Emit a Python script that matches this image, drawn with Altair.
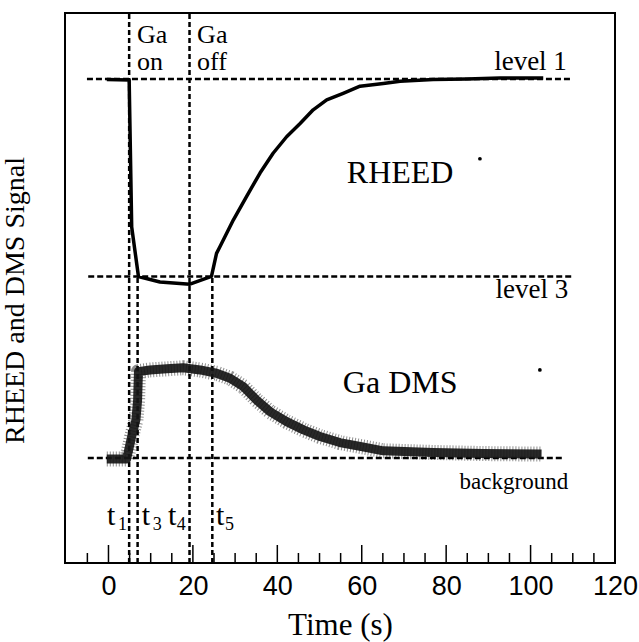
import altair as alt
import pandas as pd

# ---- data ----
rheed_t = [-0.4, 4.9, 5.5, 7.1, 12.2, 19.3, 24.4, 25.6, 26.4, 29.6, 32.7, 35.9, 39.0,
           42.2, 45.4, 48.5, 51.7, 55.6, 59.6, 65.1, 69.1, 76.9, 84.9, 92.8, 103.0]
rheed_s = [87.9, 87.8, 61.1, 52.1, 51.1, 50.7, 52.1, 56.3, 57.5, 62.4, 66.6, 70.9, 74.5,
           77.5, 79.9, 82.4, 84.2, 85.4, 86.7, 87.2, 87.6, 87.9, 88.0, 88.2, 88.2]

dms_t = [-0.4, 4.3, 5.5, 6.5, 6.9, 7.1, 9.8, 13.8, 17.7, 21.7, 25.6, 28.8, 31.9, 35.1,
         38.3, 42.2, 46.2, 50.1, 54.8, 59.6, 65.1, 76.9, 88.8, 102.6]
dms_s = [18.9, 18.9, 23.0, 26.0, 29.6, 34.8, 35.1, 35.3, 35.5, 35.1, 34.5, 33.6, 32.1, 29.6,
         27.5, 25.7, 24.2, 23.0, 21.9, 21.2, 20.4, 20.1, 19.9, 19.8]

level_names = ["level 1", "level 3", "background"]
level_values = [88.0, 52.1, 19.1]
level_start = [-5.1, -4.8, -4.9]
level_end = [109.8, 109.8, 107.7]

marker_t = [4.9, 6.9, 19.2, 24.6]
marker_top = [100.0, 52.1, 100.0, 52.1]
marker_names = ["t1", "t3", "t4", "t5"]
marker_subs = ["1", "3", "4", "5"]
marker_label_t = [-0.36, 7.9, 14.1, 25.5]
marker_sub_t = [2.25, 10.5, 16.2, 27.6]

speck_t = [102.2, 88.0]
speck_s = [35.1, 73.5]

x_tick_values = [0, 20, 40, 60, 80, 100, 120]
minor_ticks = [-5, 5, 10, 15, 25, 30, 35, 45, 50, 55, 65, 70, 75, 85, 90, 95, 105, 110, 115]
major_ticks = [0, 20, 40, 60, 80, 100]

# ---- tables ----
rheed = pd.DataFrame({"t": rheed_t, "s": rheed_s})
dms = pd.DataFrame({"t": dms_t, "s": dms_s})
levels = pd.DataFrame({"t": level_start, "t2": level_end, "s": level_values, "name": level_names})
markers = pd.DataFrame({"t": marker_t, "s": [0.0] * 4, "s2": marker_top, "name": marker_names})
specks = pd.DataFrame({"t": speck_t, "s": speck_s})
minor = pd.DataFrame({"t": minor_ticks})
major = pd.DataFrame({"t": major_ticks})

xs = alt.Scale(domain=[-10.3, 120], nice=False, zero=False)
ys = alt.Scale(domain=[0, 100], nice=False, zero=False)

xaxis = alt.Axis(values=x_tick_values, ticks=False, tickSize=0, domain=False, grid=False,
                 labelFont="Liberation Sans", labelFontSize=27, labelColor="black",
                 labelPadding=10, labelFlush=False, labelOverlap=False,
                 titleFont="Liberation Serif", titleFontSize=31, titleFontWeight="normal",
                 titleColor="black", titleBaseline="alphabetic", titleY=71)
yaxis = alt.Axis(labels=False, ticks=False, domain=False, grid=False,
                 titleFont="Liberation Serif", titleFontSize=28, titleFontWeight="normal",
                 titleColor="black", titleAngle=270, titleBaseline="alphabetic",
                 titleX=-42, titleY=287)

X = alt.X("t:Q", scale=xs, axis=xaxis, title="Time (s)")
Y = alt.Y("s:Q", scale=ys, axis=yaxis, title="RHEED and DMS Signal")

hlines = alt.Chart(levels).mark_rule(color="black", strokeWidth=2.5, strokeDash=[6, 3]).encode(
    x=X, x2="t2:Q", y=Y)
vlines = alt.Chart(markers).mark_rule(color="black", strokeWidth=2.5, strokeDash=[5, 3]).encode(
    x=X, y=Y, y2="s2:Q")

rheed_line = alt.Chart(rheed).mark_line(color="black", strokeWidth=3.5, strokeJoin="round").encode(
    x=X, y=Y)

dms_fuzz = alt.Chart(dms).mark_line(color="black", strokeWidth=15, strokeDash=[1, 2],
                                     opacity=0.45, strokeJoin="round").encode(x=X, y=Y)
dms_core = alt.Chart(dms).mark_line(color="#161616", strokeWidth=9, opacity=0.92,
                                     strokeJoin="round").encode(x=X, y=Y)

speck_layer = alt.Chart(specks).mark_circle(color="black", size=14, opacity=1).encode(x=X, y=Y)

def txt(df, size, align="left"):
    return alt.Chart(pd.DataFrame(df)).mark_text(
        font="Liberation Serif", fontSize=size, color="black", align=align,
        baseline="alphabetic").encode(x=X, y=Y, text="label:N")

ga_labels = txt({"t": [6.75, 6.75, 21.0, 21.0], "s": [94.5, 89.6, 94.5, 89.6],
                 "label": ["Ga", "on", "Ga", "off"]}, 26)
level_labels = txt({"t": [108.6, 108.9], "s": [89.6, 48.2], "label": ["level 1", "level 3"]},
                   27, "right")
bg_label = txt({"t": [108.9], "s": [13.5], "label": ["background"]}, 23, "right")
big_labels = txt({"t": [69.1, 69.1], "s": [69.1, 30.9], "label": ["RHEED", "Ga DMS"]}, 32, "center")
t_labels = txt({"t": marker_label_t, "s": [6.9] * 4, "label": ["t"] * 4}, 30)
t_subs = txt({"t": marker_sub_t, "s": [6.0] * 4, "label": marker_subs}, 18)

minor_rules = alt.Chart(minor).mark_rule(color="black", strokeWidth=1.5).encode(
    x=X, y=alt.value(550), y2=alt.value(540))
major_rules = alt.Chart(major).mark_rule(color="black", strokeWidth=1.5).encode(
    x=X, y=alt.value(550), y2=alt.value(532))

chart = alt.layer(
    hlines, vlines, dms_fuzz, dms_core, rheed_line, speck_layer,
    ga_labels, level_labels, bg_label, big_labels, t_labels, t_subs,
    minor_rules, major_rules,
).properties(
    width=550, height=550,
    background="white",
    padding={"left": 65, "top": 13, "right": 24, "bottom": 79},
    autosize=alt.AutoSizeParams(type="none"),
).configure_view(stroke="black", strokeWidth=2)

chart.save("out.html", embed_options={"renderer": "svg", "actions": False})
